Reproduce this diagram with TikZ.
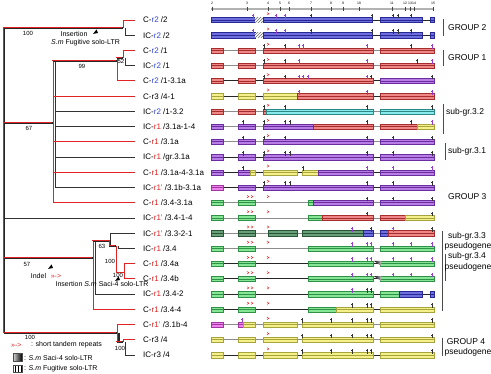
\documentclass[tikz,border=0pt]{standalone}
\usepackage{fontspec}
\setmainfont{Liberation Sans}
\usetikzlibrary{patterns}
\definecolor{cr}{RGB}{225,35,35}
\definecolor{rtwo}{RGB}{50,70,225}
\definecolor{mkp}{RGB}{150,60,210}
\colorlet{mk}{black!80}
\colorlet{mp}{mkp}
\definecolor{exblue}{RGB}{110,110,220}
\definecolor{exblueD}{RGB}{40,40,150}
\definecolor{exred}{RGB}{240,135,135}
\definecolor{exredD}{RGB}{165,45,45}
\definecolor{exyellow}{RGB}{245,240,140}
\definecolor{exyellowD}{RGB}{165,165,60}
\definecolor{expurple}{RGB}{185,125,230}
\definecolor{expurpleD}{RGB}{105,45,160}
\definecolor{excyan}{RGB}{135,235,235}
\definecolor{excyanD}{RGB}{45,135,135}
\definecolor{exgreen}{RGB}{135,230,150}
\definecolor{exgreenD}{RGB}{45,145,70}
\definecolor{exdkgreen}{RGB}{105,160,120}
\definecolor{exdkgreenD}{RGB}{40,85,55}
\definecolor{expink}{RGB}{240,130,240}
\definecolor{expinkD}{RGB}{160,55,160}
\tikzset{
  ctree/.style={cr,line width=0.8pt},
  ictree/.style={black!80,line width=0.8pt},
  lbl/.style={anchor=west,inner xsep=8pt,inner ysep=1pt,font=\fontsize{8}{9}\selectfont},
  grp/.style={anchor=west,inner sep=0pt,font=\fontsize{8.5}{10}\selectfont},
  bs/.style={inner sep=0pt,font=\fontsize{6}{7}\selectfont},
  ann/.style={inner sep=0pt,font=\fontsize{7}{8}\selectfont},
  grpbar/.style={black!70,line width=0.6pt}
}
% one exon: row y, from, to, colour
\newcommand{\exon}[4]{%
  \filldraw[fill=#4,draw=#4D,line width=0.3pt] ({#2},{#1-2.6}) rectangle ({#3},{#1+2.6});
  \draw[color=#4D,line width=0.6pt] ({#2},{#1}) -- ({#3},{#1});}
% one gene map: row y, intron colour, exon list
\newcommand{\gene}[3]{%
  \draw[#2,line width=0.8pt] (211,#1) -- (434,#1);
  \foreach \xa/\xb/\cl in {#3} {\exon{#1}{\xa}{\xb}{\cl}}}
\newcommand{\gmarks}[2]{%
  \foreach \xm/\cl in {#2} {\draw[color=\cl,line width=0.35pt] ({\xm},{#1-1.5}) -- ({\xm},{#1-6.2}) ({\xm-1},{#1-5.1}) -- ({\xm+1},{#1-5.1});}}
\newcommand{\trep}[2]{\draw[cr,line width=0.45pt] ({#2-1},{#1-7.4}) -- ({#2+1},{#1-6.2}) -- ({#2-1},{#1-5});}
\newcommand{\bothbr}[1]{\draw[black!85,line width=1.5pt] #1; \draw[ctree,transform canvas={xshift=-1pt,yshift=1pt}] #1;}

\begin{document}
\begin{tikzpicture}[x=1pt,y=-1pt]
\useasboundingbox (0,0) rectangle (491,374);
\fill[white] (0,0) rectangle (491,374);

%labels
\foreach \ii/\yy/\pre/\rn/\rc/\suf in {1/20/C-/r2/rtwo/2, 2/35.2/IC-/r2/rtwo/2, 3/50.5/C-/r2/rtwo/1,
  4/65.7/IC-/r2/rtwo/1, 5/80.9/C-/r2/rtwo/1-3.1a, 6/96.2/C-/r3/black/4-1, 7/111.4/IC-/r2/rtwo/1-3.2,
  8/126.6/IC-/r1/cr/3.1a-1-4, 9/141.8/C-/r1/cr/3.1a, 10/157.1/IC-/r1/cr/gr.3.1a,
  11/172.3/C-/r1/cr/3.1a-4-3.1a, 12/187.5/IC-/r1'/cr/3.1b-3.1a, 13/202.8/C-/r1/cr/3.4-3.1a,
  14/218/IC-/r1'/cr/3.4-1-4, 15/233.2/IC-/r1'/cr/3.3-2-1, 16/248.5/IC-/r1/cr/3.4,
  17/263.7/C-/r1/cr/3.4a, 18/278.9/C-/r1/cr/3.4b, 19/294.1/IC-/r1/cr/3.4-2, 20/309.4/C-/r1/cr/3.4-4,
  21/324.6/C-/r1'/cr/3.1b-4, 22/339.8/C-/r3/black/4, 23/355.1/IC-/r3/black/4}
  \node[lbl] (l\ii) at (135,\yy) {\pre\textcolor{\rc}{\rn} /\suf};

%tree
\coordinate (top) at (4,28);
\coordinate (bot) at (4,333);
\coordinate (g2r) at (123,28);
\coordinate (g2k) at (125,28);
\coordinate (n99) at (117,61);
\coordinate (n52r) at (123,58);
\coordinate (n52k) at (125,58);
\coordinate (n67) at (53,123);
\coordinate (n67k) at (55,123);
\coordinate (n57) at (93,258);
\coordinate (n57k) at (95,258);
\coordinate (n63) at (110,241);
\coordinate (n100c) at (116,246);
\coordinate (n100ck) at (118,246);
\coordinate (n100d) at (124,272);
\coordinate (n100g) at (117,333);
\coordinate (n100gk) at (119,333);
\coordinate (n100h) at (123,342);
\coordinate (n100hk) at (125,342);
% single branches
\draw[ictree] (top |- l14) -- (l14.west);
\draw[ctree] (g2r) -- (g2r |- l1) -- (l1.west);
\draw[ictree] (g2k) -- (g2k |- l2) -- (l2.west);
\draw[ctree] (n52r) -- (n52r |- l3) -- (l3.west);
\draw[ictree] (n52k) -- (n52k |- l4) -- (l4.west);
\draw[ctree] (n99 |- n52r) -- (n99 |- l5) -- (l5.west);
\draw[ctree] (n67 |- n99) -- (n67 |- l13);
\draw[ictree] (n67k |- n99) -- (n67k |- l12);
\foreach \ii in {6,9,11,13} {\draw[ctree] (n67 |- l\ii) -- (l\ii.west);}
\foreach \ii in {7,8,10,12} {\draw[ictree] (n67k |- l\ii) -- (l\ii.west);}
\draw[ctree] (n57 |- n63) -- (n57 |- l20) -- (l20.west);
\draw[ictree] (n57k |- n63) -- (n57k |- l19) -- (l19.west);
\draw[ictree] (n63) -- (n63 |- l15) -- (l15.west);
\draw[ictree] (n100ck) -- (n100ck |- l16) -- (l16.west);
\draw[ctree] (n100c) -- (n100c |- n100d) -- (n100d);
\draw[ctree] (n100d |- l17) -- (l17.west);
\draw[ctree] (n100d |- l17) -- (n100d |- l18) -- (l18.west);
\draw[ctree] (n100g |- l21) -- (l21.west);
\draw[ctree] (n100g |- l21) -- (n100g |- n100h);
\draw[black!85,line width=1.5pt] (n100gk) -- (n100gk |- n100h);
\draw[ctree] (n100h |- l22) -- (n100h);
\draw[ctree] (n100h |- l22) -- (l22.west);
\draw[ictree] (n100hk) -- (n100hk |- l23) -- (l23.west);
% shared branches
\bothbr{(top) -- (bot)}
\bothbr{(top) -- (g2r)}
\bothbr{(top |- n67) -- (n67)}
\bothbr{(n67 |- n99) -- (n99)}
\bothbr{(n99 |- n52r) -- (n52r)}
\bothbr{(top |- n57) -- (n57)}
\bothbr{(n57 |- n63) -- (n63) -- (n63 |- n100c) -- (n100c)}
\bothbr{(bot) -- (n100g)}
\bothbr{(n100g |- n100h) -- (n100h)}
% bootstrap values
\node[bs] (b100a) at (28,33) {100};
\node[bs] (b99) at (82,66) {99};
\node[bs] (b52) at (121,61.5) {52};
\node[bs] (b67) at (29,128) {67};
\node[bs] (b57) at (27,264) {57};
\node[bs] (b63) at (102,246.5) {63};
\node[bs] (b100c) at (110,261) {100};
\node[bs] (b100d) at (118,275.5) {100};
\node[bs] (b100g) at (30,337.5) {100};
\node[bs] (b100h) at (120,348) {100};
% events
\node[ann] (ins1) at (74,34) {Insertion};
\node[ann] (fug1) at (85.5,43) {\textit{S.m} Fugitive solo-LTR};
\fill (93,34) -- (96.5,29.5) -- (98,33) -- cycle;
\node[ann] (indel) at (38.5,276.5) {Indel};
\node[ann,text=cr] (indrep) at (56,276) {>>->};
\fill (48,269) -- (51.5,264.5) -- (53,268) -- cycle;
\node[ann] (ins2) at (102,284.5) {Insertion \textit{S.m} Saci-4 solo-LTR};
\fill (115,281) -- (118.5,276.5) -- (120,280) -- cycle;

%scale
\draw[black!30,line width=1.2pt] (211,9) -- (434,9);
\foreach \xs/\n in {212/2,247/3,268/4,280/5,289/6,311/7,331/8,343/9,359/10,392/11,405/12,410/13,414/14,433/15} {
  \draw[black!75,line width=0.7pt] (\xs,7) -- (\xs,11);
  \node[inner sep=0pt,font=\fontsize{3.5}{4}\selectfont] (t\n) at (\xs,3.5) {\n};}

%gene maps
\gene{20}{black!85}{211/255/exblue,263/372/exblue,380/422/exblue,430/434/exblue}
\gene{35.2}{black!85}{211/255/exblue,263/372/exblue,380/422/exblue,430/434/exblue}
\gene{50.5}{black!45}{211/223/exred,238/255/exred,263/373/exred,380/434/exred}
\gene{65.7}{black!45}{211/223/exred,238/255/exred,263/373/exred,380/434/exred}
\gene{80.9}{black!85}{211/223/exred,238/255/exred,263/373/exred,380/434/expurple}
\gene{96.2}{black!85}{211/223/exyellow,238/255/exyellow,263/297/exyellow,297/373/exred,380/434/exred}
\gene{111.4}{black!45}{211/223/exred,238/255/exred,263/266/exred,266/373/excyan,380/434/excyan}
\gene{126.6}{black!45}{211/223/expurple,238/255/expurple,263/313/expurple,313/373/exred,380/417/exred,417/434/exyellow}
\gene{141.8}{black!45}{211/223/expurple,238/255/expurple,263/373/expurple,380/434/expurple}
\gene{157.1}{black!85}{211/223/expurple,238/255/expurple,263/373/expurple,380/434/expurple}
\gene{172.3}{black!85}{211/223/expurple,238/250/expurple,250/255/exyellow,263/297/exyellow,302/318/exyellow,318/373/expurple,380/434/expurple}
\gene{187.5}{black!85}{211/223/expink,238/255/expurple,263/373/expurple,380/434/expurple}
\gene{202.8}{black!45}{211/223/exgreen,238/255/exgreen,308/313/exgreen,313/373/expurple,380/434/expurple}
\gene{218}{black!45}{211/223/exgreen,238/255/exgreen,308/322/exgreen,322/373/exred,380/405/exred,405/434/exyellow}
\gene{233.2}{black!45}{211/223/exdkgreen,238/255/exdkgreen,268/297/exdkgreen,302/363/exdkgreen,363/373/exblue,380/388/exblue,388/434/exred}
\gene{248.5}{black!45}{211/223/exgreen,238/255/exgreen,308/373/exgreen,380/434/exgreen}
\gene{263.7}{black!85}{211/223/exgreen,238/255/exgreen,308/373/exgreen,380/434/exgreen}
\gene{278.9}{black!85}{211/223/exgreen,238/255/exgreen,308/373/exgreen,380/434/exgreen}
\gene{294.1}{black!85}{211/223/exgreen,238/255/exgreen,308/373/exgreen,380/399/exgreen,399/422/exblue,430/434/exblue}
\gene{309.4}{black!85}{211/223/exgreen,238/255/exgreen,308/336/exgreen,336/373/exyellow,380/434/exyellow}
\gene{324.6}{black!45}{211/223/expink,238/243/expink,243/255/exyellow,263/297/exyellow,302/373/exyellow,380/434/exyellow}
\gene{339.8}{black!45}{211/223/exyellow,238/255/exyellow,263/297/exyellow,302/373/exyellow,380/434/exyellow}
\gene{355.1}{black!85}{211/223/exyellow,238/255/exyellow,263/297/exyellow,302/373/exyellow,380/434/exyellow}
% Fugitive and Saci-4 inserts
\foreach \yy in {20,35.2} {
  \fill[white] (255,\yy-2.6) rectangle (263,\yy+2.6);
  \fill[pattern=north east lines,pattern color=black!60] (255,\yy-2.6) rectangle (263,\yy+2.6);}
\foreach \yy in {263.7,278.9} {
  \shade[left color=black,right color=black!25] (374,\yy-2.8) -- (381,\yy-2.8) -- (381,\yy+2.2) -- cycle;}
% repeats and variable sites
\foreach \yy in {20,35.2,50.5,65.7,80.9,96.2,111.4,126.6,141.8,157.1,172.3,187.5,202.8,218,233.2,248.5,263.7,278.9,294.1,309.4,324.6,339.8,355.1} {\trep{\yy}{268}}
\foreach \yy in {202.8,218,233.2,248.5,263.7,278.9,294.1,309.4} {\trep{\yy}{248}\trep{\yy}{252}}
\gmarks{20}{253/mp,276/mp,285/mp,311/mk,372/mk,393/mk,398/mk,411/mk}
\gmarks{35.2}{253/mp,276/mp,285/mp,311/mk,372/mk,393/mk,398/mk,411/mk}
\gmarks{50.5}{264/mk,285/mk,299/mp,303/mp,367/mp,411/mk,432/mp}
\gmarks{65.7}{264/mk,285/mk,299/mp,367/mp,417/mk,432/mp}
\gmarks{80.9}{264/mk,285/mk,299/mp,303/mp,308/mp,367/mp,371/mk,432/mk}
\gmarks{96.2}{299/mp,367/mp,432/mp}
\gmarks{111.4}{264/mk,285/mk,367/mk,432/mk}
\gmarks{126.6}{243/mk,264/mk,285/mk,290/mk,367/mk,411/mk,432/mp}
\gmarks{141.8}{243/mk,264/mk,285/mk,367/mk,393/mk,432/mk}
\gmarks{157.1}{243/mk,264/mk,285/mk,290/mk,367/mk,393/mk,432/mk}
\gmarks{172.3}{243/mk,303/mk,367/mp,393/mp,432/mp}
\gmarks{187.5}{264/mk,285/mk,290/mk,367/mk,393/mk,432/mk}
\gmarks{202.8}{367/mk,393/mk,432/mk}
\gmarks{218}{367/mk,432/mk}
\gmarks{233.2}{352/mp,371/mk,393/mp,432/mk}
\gmarks{248.5}{352/mp,367/mp,371/mp,393/mp,411/mp,432/mp}
\gmarks{263.7}{352/mp,367/mp,371/mp,393/mp,411/mp,432/mp}
\gmarks{278.9}{352/mp,367/mp,371/mp,393/mp,411/mp,432/mp}
\gmarks{294.1}{352/mp,367/mk,371/mk}
\gmarks{309.4}{352/mk,367/mk,371/mk,432/mk}
\gmarks{324.6}{242/mp,302/mk,331/mk,352/mk,367/mk,371/mk,432/mk}
\gmarks{339.8}{302/mk,331/mk,352/mk,367/mk,371/mk,432/mk}
\gmarks{355.1}{302/mk,331/mk,352/mk,367/mk,371/mk,432/mk}

%groups
\draw[grpbar] (443,19) -- (443,36);
\draw[grpbar] (443,50) -- (443,66);
\draw[grpbar] (443,104) -- (443,134);
\draw[grpbar] (445,143) -- (445,160);
\draw[grpbar] (442,231) -- (442,311);
\draw[grpbar] (445,254) -- (445,281);
\draw[grpbar] (442,338) -- (442,356);
\node[grp] (g2) at (448,27.5) {GROUP 2};
\node[grp] (g1) at (448,58) {GROUP 1};
\node[grp] (s32) at (446,112) {sub-gr.3.2};
\node[grp] (s31) at (448,151) {sub-gr.3.1};
\node[grp] (g3) at (448,197) {GROUP 3};
\node[grp,anchor=center] (s33) at (467,236) {sub-gr.3.3};
\node[grp,anchor=center] (s33p) at (468,246.5) {pseudogene};
\node[grp,anchor=center] (s34) at (467,256) {sub-gr.3.4};
\node[grp,anchor=center] (s34p) at (468,267.5) {pseudogene};
\node[grp,anchor=center] (g4) at (466,342) {GROUP 4};
\node[grp,anchor=center] (g4p) at (468,352.5) {pseudogene};

%legend
\node[ann,anchor=west,text=cr] (lgrep) at (11,345) {>>->};
\node[ann,anchor=west] (lgrept) at (31,345) {: short tandem repeats};
\shade[left color=black!15,right color=black,draw=black!70,line width=0.4pt] (13,353.5) rectangle (22,361.5);
\node[ann,anchor=west] (lgsaci) at (24,357.5) {: \textit{S.m} Saci-4 solo-LTR};
\draw[black!70,line width=0.4pt,pattern=vertical lines] (13,365.5) rectangle (22,372.5);
\node[ann,anchor=west] (lgfug) at (24,369) {: \textit{S.m} Fugitive solo-LTR};
\end{tikzpicture}
\end{document}
